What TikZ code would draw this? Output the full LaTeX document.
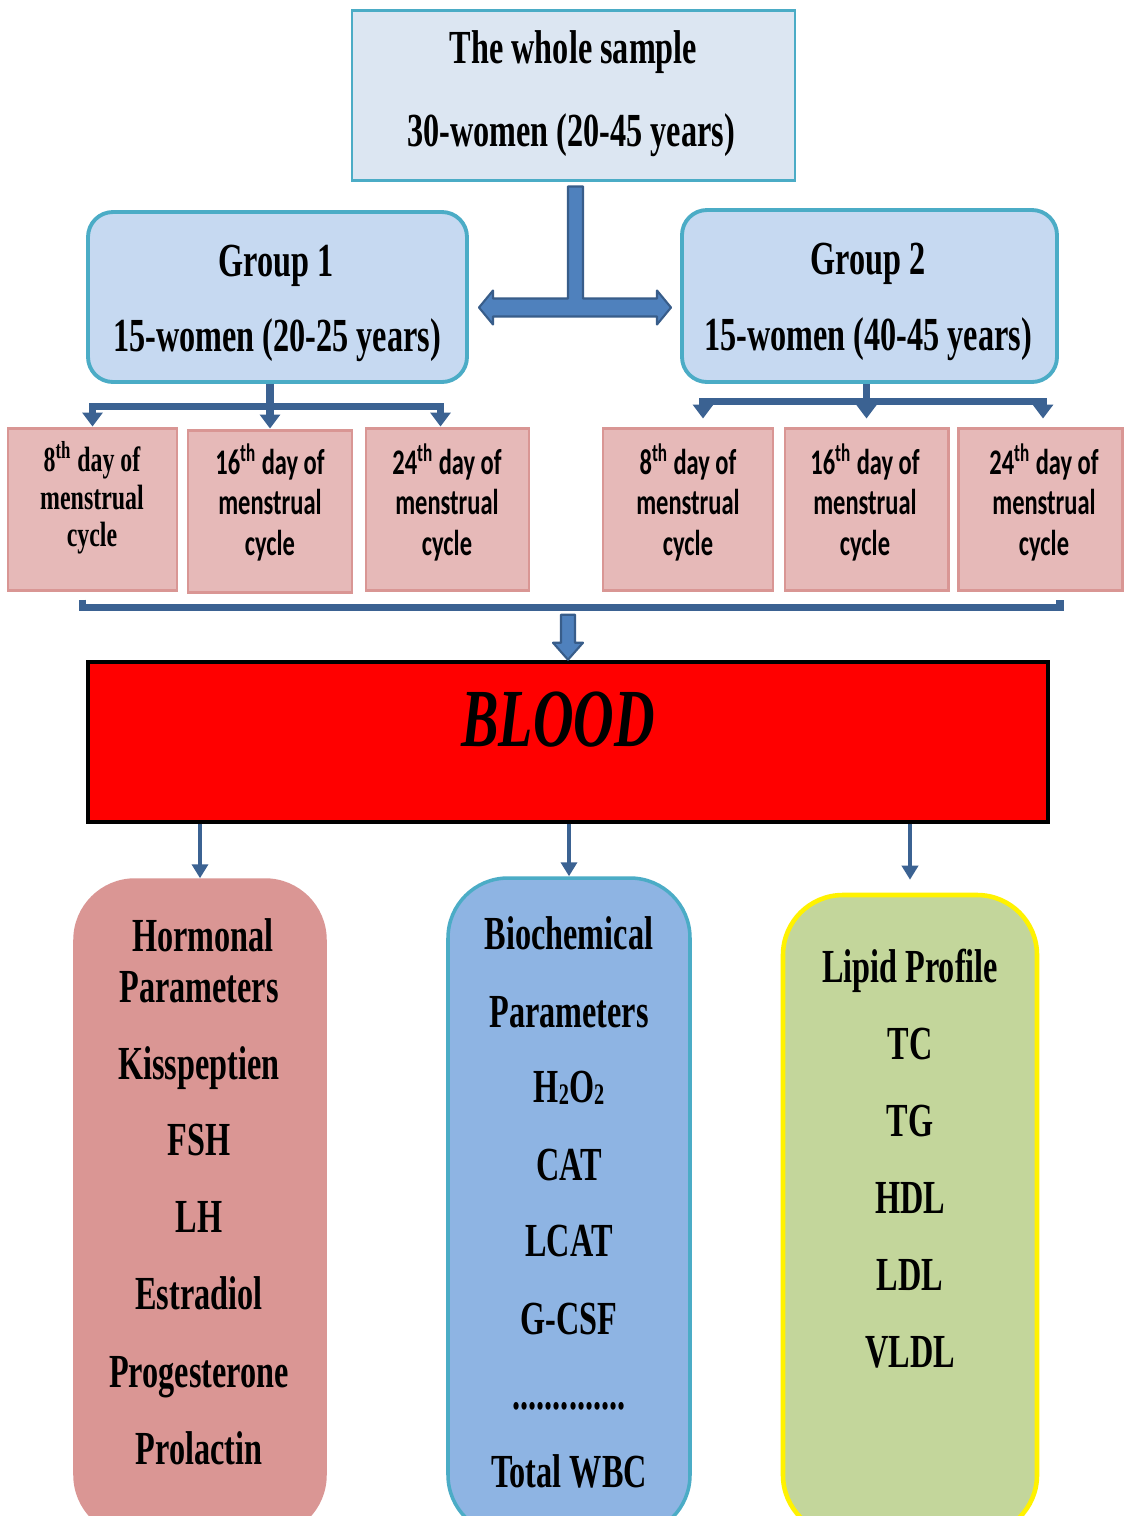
\documentclass[tikz,border=0pt]{standalone}
\usepackage{fontspec}
\newfontfamily\tnrfont[FakeStretch=0.68]{Liberation Serif}
\newfontfamily\calfont[FakeStretch=0.68]{Carlito}
\usetikzlibrary{arrows.meta,calc}
\definecolor{topfill}{RGB}{220,230,242}
\definecolor{teal}{RGB}{75,172,198}
\definecolor{grpfill}{RGB}{198,217,241}
\definecolor{pinkfill}{RGB}{230,185,184}
\definecolor{pinkline}{RGB}{217,150,148}
\definecolor{pinkbig}{RGB}{218,150,148}
\definecolor{bluebig}{RGB}{142,180,227}
\definecolor{greenbig}{RGB}{195,214,155}
\definecolor{connc}{RGB}{59,98,146}
\definecolor{blkfill}{RGB}{79,129,189}
\definecolor{blkline}{RGB}{56,93,138}
\newcommand{\smallsub}[1]{\raisebox{-0.06em}{\fontsize{17}{17}\selectfont #1}}
\tikzset{
  topbox/.style={draw=teal,fill=topfill,line width=1.7pt,minimum width=443*0.02cm,minimum height=170*0.02cm,inner sep=0pt},
  grpbox/.style={draw=teal,fill=grpfill,line width=2.2pt,rounded corners=0.5cm,minimum height=170*0.02cm,inner sep=0pt},
  daybox/.style={draw=pinkline,fill=pinkfill,line width=1.7pt,minimum height=162*0.02cm,inner sep=0pt},
  bigtxt/.style={font=\tnrfont\bfseries\fontsize{27}{30}\selectfont,anchor=base,inner sep=0pt},
  daytxt/.style={font=\tnrfont\bfseries\fontsize{20}{21.3}\selectfont,align=center,inner sep=0pt},
  daytxtc/.style={font=\calfont\bfseries\fontsize{20.5}{23}\selectfont,align=center,inner sep=0pt},
  conn/.style={draw=connc,line width=4pt},
  conntip/.style={conn,-{Triangle[width=20*0.02cm,length=14*0.02cm]}},
  brk/.style={draw=connc,line width=4pt},
  blk/.style={fill=blkfill,draw=blkline,line width=1.2pt,line join=round},
  thinarr/.style={draw=connc,line width=2.8pt,-{Triangle[width=16*0.02cm,length=14*0.02cm]}},
  param/.style={rounded corners=1.2cm,line width=2pt,inner sep=0pt}
}
\begin{document}
\begin{tikzpicture}[x=0.02cm,y=-0.02cm]
\useasboundingbox (0,0) rectangle (1124,1516);
\clip (0,0) rectangle (1124,1516);
\fill[white] (0,0) rectangle (1124,1516);

% top box
\node[topbox] (top) at (573.5,95) {};
\node[bigtxt] (toptxt1) at (573.5,63) {The whole sample};
\node[bigtxt] (toptxt2) at (571,146) {30-women (20-45 years)};

% groups
\node[grpbox,minimum width=379*0.02cm] (g1) at (277.5,297) {};
\node[bigtxt] (g1t1) at (276,276) {Group 1};
\node[bigtxt] (g1t2) at (277,351) {15-women (20-25 years)};
\node[grpbox,minimum width=375*0.02cm,minimum height=172*0.02cm] (g2) at (869.5,296) {};
\node[bigtxt] (g2t1) at (868,274) {Group 2};
\node[bigtxt] (g2t2) at (868,350) {15-women (40-45 years)};

% T double arrow
\coordinate (T) at ($(top.south)+(2,5)$);
\filldraw[blk] (T) ++(-7.5,0) -- ++(15,0) -- ++(0,112) -- ++(74,0) -- ++(0,-8) -- ++(14,17) -- ++(-14,17) -- ++(0,-8) -- ++(-164,0) -- ++(0,8) -- ++(-14,-17) -- ++(14,-17) -- ++(0,8) -- ++(75,0) -- cycle;

% day boxes
\node[daybox,minimum width=169*0.02cm] (b1) at (92.5,509) {};
\node[daybox,minimum width=164*0.02cm] (b2) at (270,511) {};
\node[daybox,minimum width=163*0.02cm] (b3) at (447.5,509) {};
\node[daybox,minimum width=170*0.02cm] (b4) at (688,509) {};
\node[daybox,minimum width=163*0.02cm] (b5) at (866.5,509) {};
\node[daybox,minimum width=164*0.02cm] (b6) at (1040,509) {};

\node[daytxt] (t1) at (92,498) {8\textsuperscript{th} day of\\menstrual\\cycle};
\node[daytxtc] (t2) at (270,502) {16\textsuperscript{th} day of\\menstrual\\cycle};
\node[daytxtc] (t3) at (447,502) {24\textsuperscript{th} day of\\menstrual\\cycle};
\node[daytxtc] (t4) at (688,502) {8\textsuperscript{th} day of\\menstrual\\cycle};
\node[daytxtc] (t5) at (865,502) {16\textsuperscript{th} day of\\menstrual\\cycle};
\node[daytxtc] (t6) at (1044,502) {24\textsuperscript{th} day of\\menstrual\\cycle};

% group 1 connectors
\coordinate (j1) at ($(g1.south -| b2.north)+(0,23)$);
\draw[conn] (g1.south -| b2.north) -- (j1);
\draw[conntip] (j1) -| (b1.north);
\draw[conntip] (j1) -- (b2.north);
\draw[conntip] (j1) -| ($(b3.north)+(-7,0)$);
% group 2 connectors
\coordinate (j2) at ($(g2.south -| b5.north)+(0,18)$);
\draw[conn] (g2.south -| b5.north) -- (j2);
\draw[conntip] (j2) -| ($(b4.north)+(15,-8)$);
\draw[conntip] (j2) -- ($(b5.north)+(0,-8)$);
\draw[conntip] (j2) -| ($(b6.north)+(3,-8)$);

% blood
\node[draw=black,fill=red,line width=2.6pt,minimum width=960*0.02cm,minimum height=160*0.02cm,inner sep=0pt] (blood) at (568,742) {};
\node[font=\tnrfont\bfseries\itshape\fontsize{47}{50}\selectfont,anchor=base,inner sep=0pt] (bloodtxt) at (558,746) {BLOOD};

% bracket and central arrow
\coordinate (M) at ($(blood.north)+(0,-52)$);
\draw[brk] ($(b1.south)+(-10,8)$) |- (M) -| ($(b6.south)+(20,8)$);
\filldraw[blk] (M) ++(-7,7) -- ++(14,0) -- ++(0,28) -- ++(8,0) -- ++(-15,17) -- ++(-15,-17) -- ++(8,0) -- cycle;

% parameter boxes
\node[param,fill=pinkbig,draw=pinkbig,minimum width=250*0.02cm,minimum height=655*0.02cm] (pink) at (200,1207.5) {};
\node[param,fill=bluebig,draw=teal,minimum width=242*0.02cm,minimum height=657*0.02cm] (blue) at (569,1206.5) {};
\node[param,fill=greenbig,draw=yellow,line width=2.6pt,minimum width=254*0.02cm,minimum height=640*0.02cm] (green) at (910,1215) {};

\draw[thinarr] (blood.south -| pink.north) -- (pink.north);
\draw[thinarr] (blood.south -| blue.north) -- (blue.north);
\draw[thinarr,shorten >=13*0.02cm] (blood.south -| green.north) -- (green.north);

% pink texts
\node[bigtxt] (p1) at (203,951) {Hormonal};
\node[bigtxt] (p2) at (199,1002) {Parameters};
\node[bigtxt] (p3) at (199,1079) {Kisspeptien};
\node[bigtxt] (p4) at (199,1155) {FSH};
\node[bigtxt] (p5) at (199,1232) {LH};
\node[bigtxt] (p6) at (199,1309) {Estradiol};
\node[bigtxt] (p7) at (199,1387) {Progesterone};
\node[bigtxt] (p8) at (199,1464) {Prolactin};
% blue texts
\node[bigtxt] (q1) at (569,949) {Biochemical};
\node[bigtxt] (q2) at (569,1027) {Parameters};
\node[bigtxt] (q3) at (569,1102) {H\smallsub{2}O\smallsub{2}};
\node[bigtxt] (q4) at (569,1180) {CAT};
\node[bigtxt] (q5) at (569,1256) {LCAT};
\node[bigtxt] (q6) at (569,1334) {G-CSF};
\node[bigtxt] (q7) at (569,1409) {..............};
\node[bigtxt] (q8) at (569,1487) {Total WBC};
% green texts
\node[bigtxt] (r1) at (910,982) {Lipid Profile};
\node[bigtxt] (r2) at (910,1059) {TC};
\node[bigtxt] (r3) at (910,1136) {TG};
\node[bigtxt] (r4) at (910,1213) {HDL};
\node[bigtxt] (r5) at (910,1290) {LDL};
\node[bigtxt] (r6) at (910,1367) {VLDL};
\end{tikzpicture}
\end{document}
